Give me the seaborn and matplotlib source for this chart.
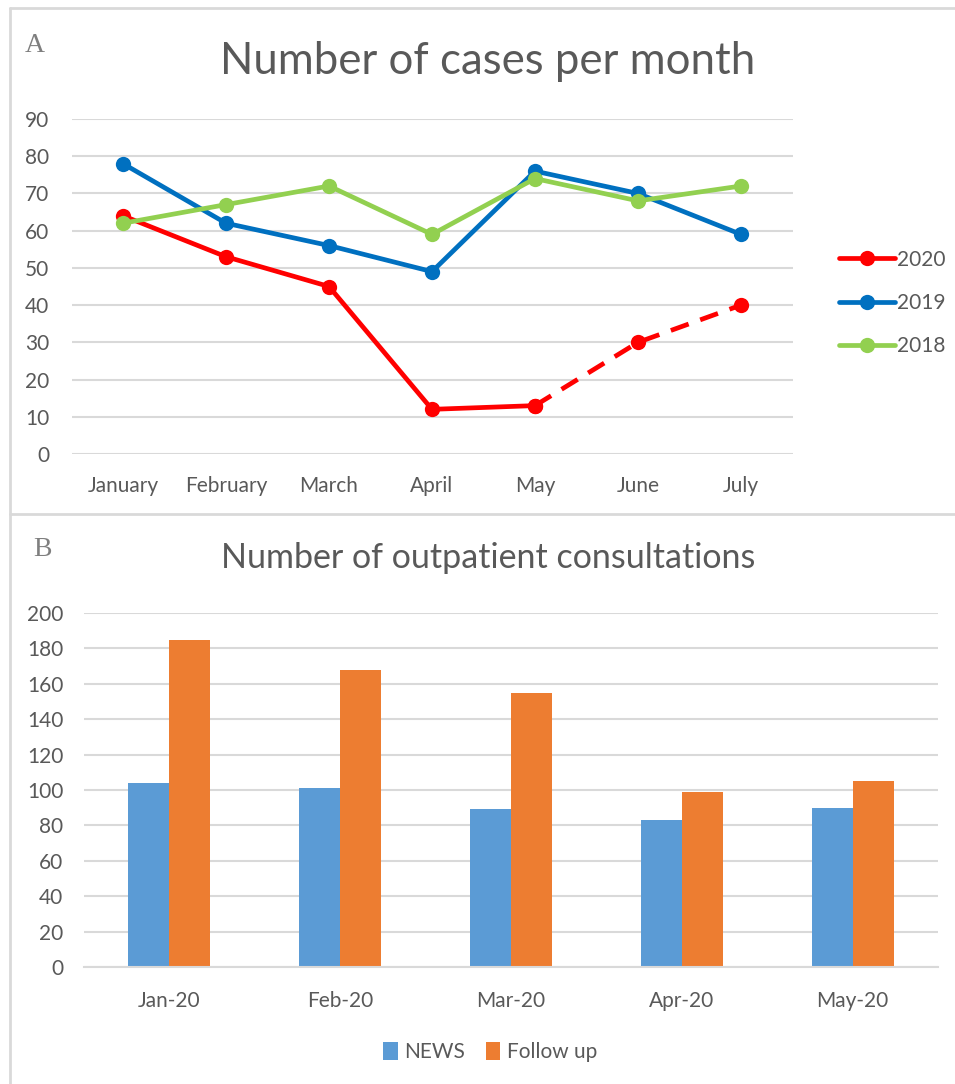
import pandas as pd
import matplotlib.pyplot as plt
import matplotlib.lines as mlines
import seaborn as sns

# data
months = ['January', 'February', 'March', 'April', 'May', 'June', 'July']
cases_2020 = [64, 53, 45, 12, 13, 30, 40]
cases_2019 = [78, 62, 56, 49, 76, 70, 59]
cases_2018 = [62, 67, 72, 59, 74, 68, 72]
dashed_from = 4  # 2020 is dashed from May on

periods = ['Jan-20', 'Feb-20', 'Mar-20', 'Apr-20', 'May-20']
news = [104, 101, 89, 83, 90]
follow_up = [185, 168, 155, 99, 105]

year_colors = {'2020': '#FF0000', '2019': '#0070C0', '2018': '#92D050'}
bar_colors = {'NEWS': '#5B9BD5', 'Follow up': '#ED7D31'}
text_col = '#595959'
grid_col = '#D9D9D9'

sns.set_theme(style='white')
plt.rcParams['font.family'] = ['Lato', 'DejaVu Sans']
plt.rcParams['text.color'] = text_col
plt.rcParams['axes.labelcolor'] = text_col
plt.rcParams['xtick.color'] = text_col
plt.rcParams['ytick.color'] = text_col

W, H = 955, 1084
fig = plt.figure(figsize=(W / 100, H / 100), dpi=100)


def fx(px):
    return px / W


def fy(px):
    return 1 - px / H


# panel frames
for xs, ys in [([10, 10], [8, H]), ([10, W], [8, 8]), ([10, W], [514, 514])]:
    fig.add_artist(mlines.Line2D([fx(x) for x in xs], [fy(y) for y in ys],
                                 color=grid_col, lw=2))

# ---------- A: line chart ----------
ax1 = fig.add_axes([fx(71.5), fy(454), fx(792.5) - fx(71.5), fy(119) - fy(454)])
idx = list(range(len(months)))
df_lines = pd.DataFrame({
    'm': idx * 3,
    'cases': cases_2020 + cases_2019 + cases_2018,
    'year': ['2020'] * 7 + ['2019'] * 7 + ['2018'] * 7,
})
solid = df_lines[~((df_lines['year'] == '2020') & (df_lines['m'] > dashed_from))]
dashed = df_lines[(df_lines['year'] == '2020') & (df_lines['m'] >= dashed_from)]

sns.lineplot(data=dashed, x='m', y='cases', color=year_colors['2020'], lw=3.4,
             ls=(0, (4, 2.6)), marker='o', markersize=11, markeredgewidth=0,
             ax=ax1, legend=False)
sns.lineplot(data=solid, x='m', y='cases', hue='year', hue_order=['2020', '2019', '2018'],
             palette=year_colors, lw=3.4, marker='o', markersize=11,
             markeredgewidth=0, ax=ax1, legend=False, sort=False)

ax1.set_xlim(-0.5, len(months) - 0.5)
ax1.set_ylim(0, 90)
ax1.set_yticks(range(0, 91, 10))
ax1.set_xticks(idx)
ax1.set_xticklabels(months)
ax1.set_xlabel('')
ax1.set_ylabel('')
ax1.yaxis.grid(True, color=grid_col, lw=1.5)
ax1.set_axisbelow(True)
sns.despine(ax=ax1, left=True, bottom=True)
ax1.tick_params(axis='y', length=0, pad=16, labelsize=15)
ax1.tick_params(axis='x', length=0, pad=16, labelsize=15)

handles = [mlines.Line2D([], [], color=year_colors[y], lw=3.4, marker='o', markersize=11,
                         markeredgewidth=0, label=y) for y in ['2020', '2019', '2018']]
fig.legend(handles=handles, loc='center left', bbox_to_anchor=(fx(820), fy(303)),
           frameon=False, fontsize=15, handlelength=2.7, handletextpad=0.1,
           labelspacing=1.12, labelcolor=text_col)

fig.text(fx(488), fy(62), 'Number of cases per month', ha='center', va='center',
         fontsize=31.5, color=text_col)
fig.text(fx(35), fy(45), 'A', ha='center', va='center', fontsize=20,
         color='#7F7F7F', family='Liberation Serif')

# ---------- B: bar chart ----------
ax2 = fig.add_axes([fx(84), fy(967), fx(938) - fx(84), fy(613) - fy(967)])
df_bars = pd.DataFrame({
    'period': periods * 2,
    'count': news + follow_up,
    'type': ['NEWS'] * len(periods) + ['Follow up'] * len(periods),
})
sns.barplot(data=df_bars, x='period', y='count', hue='type', order=periods,
            hue_order=['NEWS', 'Follow up'], palette=bar_colors, width=0.48,
            gap=0, linewidth=0, saturation=1, ax=ax2)

ax2.set_xlim(-0.5, len(periods) - 0.5)
ax2.set_ylim(0, 200)
ax2.set_yticks(range(0, 201, 20))
ax2.set_xlabel('')
ax2.set_ylabel('')
ax2.yaxis.grid(True, color=grid_col, lw=1.5)
ax2.set_axisbelow(True)
sns.despine(ax=ax2, left=True)
ax2.spines['bottom'].set_color(grid_col)
ax2.spines['bottom'].set_linewidth(1.5)
ax2.set_xticks([i - 0.5 for i in range(len(periods) + 1)], minor=True)
ax2.tick_params(axis='x', which='minor', length=7, width=1.5, color=grid_col, direction='out')
ax2.tick_params(axis='x', which='major', length=0, pad=17, labelsize=15)
ax2.tick_params(axis='y', length=0, pad=15, labelsize=15)

ax2.legend_.remove()
bar_handles, bar_labels = ax2.get_legend_handles_labels()
fig.legend(bar_handles, bar_labels, loc='center', bbox_to_anchor=(fx(490), fy(1052)),
           ncol=2, frameon=False, fontsize=15, handlelength=0.7, handleheight=1.0,
           handletextpad=0.3, columnspacing=1.0, labelcolor=text_col)

fig.text(fx(488), fy(558), 'Number of outpatient consultations', ha='center', va='center',
         fontsize=24.5, color=text_col)
fig.text(fx(42), fy(550), 'B', ha='center', va='center', fontsize=20,
         color='#7F7F7F', family='Liberation Serif')

fig.savefig('out.png', dpi=100, facecolor='white')
